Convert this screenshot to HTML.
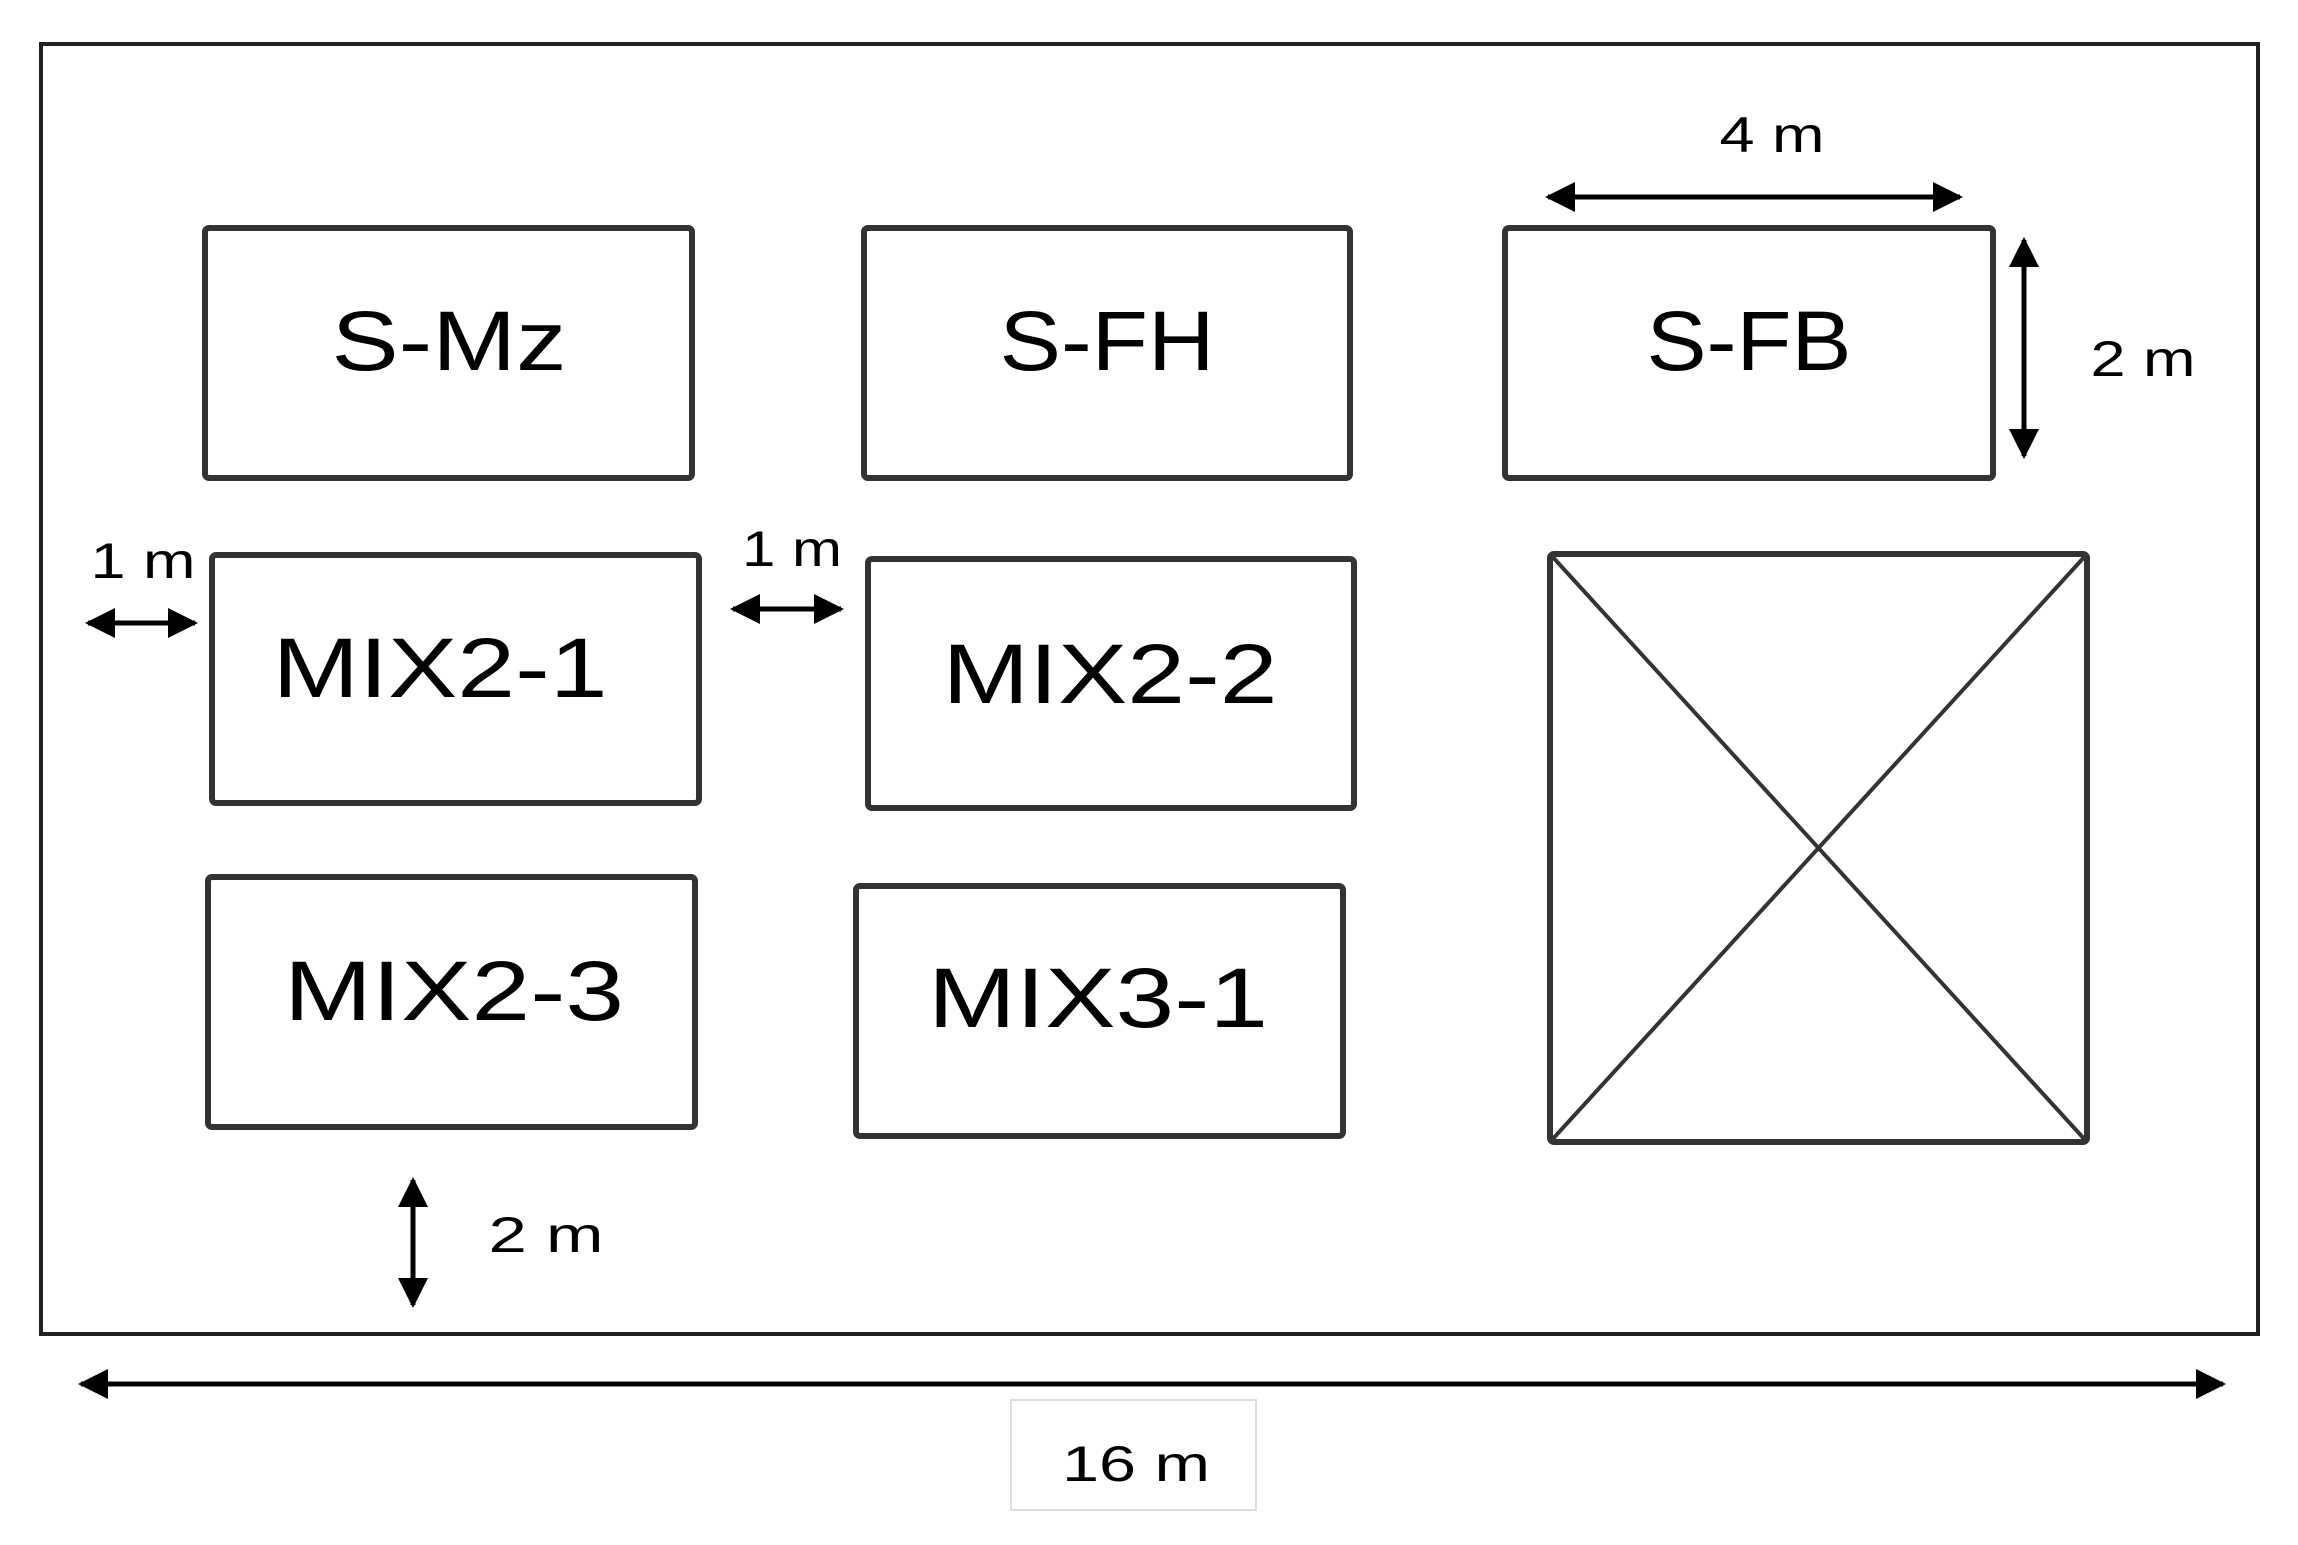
<!DOCTYPE html>
<html><head><meta charset="utf-8"><style>html,body{margin:0;padding:0;background:#fff}svg{display:block}</style></head>
<body>
<svg width="2298" height="1545" viewBox="0 0 2298 1545" xmlns="http://www.w3.org/2000/svg" font-family="'Liberation Sans Narrow','Liberation Sans',sans-serif">
<defs>
<marker id="a" viewBox="0 0 10 10" refX="9" refY="5" markerWidth="6" markerHeight="6" orient="auto-start-reverse"><path d="M0,0 L10,5 L0,10 z" fill="#000"/></marker>
</defs>
<rect x="41" y="44" width="2217" height="1290" fill="none" stroke="#222" stroke-width="4"/>
<g fill="none" stroke="#333" stroke-width="6">
<rect x="205" y="228" width="487" height="250" rx="4"/>
<rect x="864" y="228" width="486" height="250" rx="4"/>
<rect x="1505" y="228" width="488" height="250" rx="4"/>
<rect x="212" y="555" width="487" height="248" rx="4"/>
<rect x="868" y="559" width="486" height="249" rx="4"/>
<rect x="208" y="877" width="487" height="250" rx="4"/>
<rect x="856" y="886" width="487" height="250" rx="4"/>
<rect x="1550" y="554" width="537" height="588" rx="4"/>
</g>
<g stroke="#333" stroke-width="4"><line x1="1550" y1="554" x2="2087" y2="1142"/><line x1="2087" y1="554" x2="1550" y2="1142"/></g>
<g fill="#000" font-size="84" text-anchor="middle">
<text x="449" y="370" textLength="235" lengthAdjust="spacingAndGlyphs">S-Mz</text>
<text x="1107" y="370" textLength="215" lengthAdjust="spacingAndGlyphs">S-FH</text>
<text x="1749" y="370" textLength="205" lengthAdjust="spacingAndGlyphs">S-FB</text>
<text x="440" y="697" textLength="335" lengthAdjust="spacingAndGlyphs">MIX2-1</text>
<text x="1110" y="703" textLength="335" lengthAdjust="spacingAndGlyphs">MIX2-2</text>
<text x="454" y="1020" textLength="340" lengthAdjust="spacingAndGlyphs">MIX2-3</text>
<text x="1098" y="1027" textLength="340" lengthAdjust="spacingAndGlyphs">MIX3-1</text>
</g>
<g stroke="#000" stroke-width="5" marker-start="url(#a)" marker-end="url(#a)">
<line x1="1548" y1="197" x2="1960" y2="197"/>
<line x1="2024" y1="240" x2="2024" y2="456"/>
<line x1="88" y1="623" x2="195" y2="623"/>
<line x1="733" y1="609" x2="841" y2="609"/>
<line x1="413" y1="1180" x2="413" y2="1305"/>
<line x1="81" y1="1384" x2="2223" y2="1384"/>
</g>
<rect x="1011" y="1400" width="245" height="110" fill="none" stroke="#ddd" stroke-width="2"/>
<g fill="#000" font-size="50" text-anchor="middle">
<text x="1772" y="152" textLength="105" lengthAdjust="spacingAndGlyphs">4 m</text>
<text x="2143" y="376" textLength="105" lengthAdjust="spacingAndGlyphs">2 m</text>
<text x="143" y="578" textLength="105" lengthAdjust="spacingAndGlyphs">1 m</text>
<text x="792" y="566" textLength="100" lengthAdjust="spacingAndGlyphs">1 m</text>
<text x="546" y="1252" textLength="115" lengthAdjust="spacingAndGlyphs">2 m</text>
<text x="1136" y="1481" textLength="148" lengthAdjust="spacingAndGlyphs">16 m</text>
</g>
</svg>
</body></html>
